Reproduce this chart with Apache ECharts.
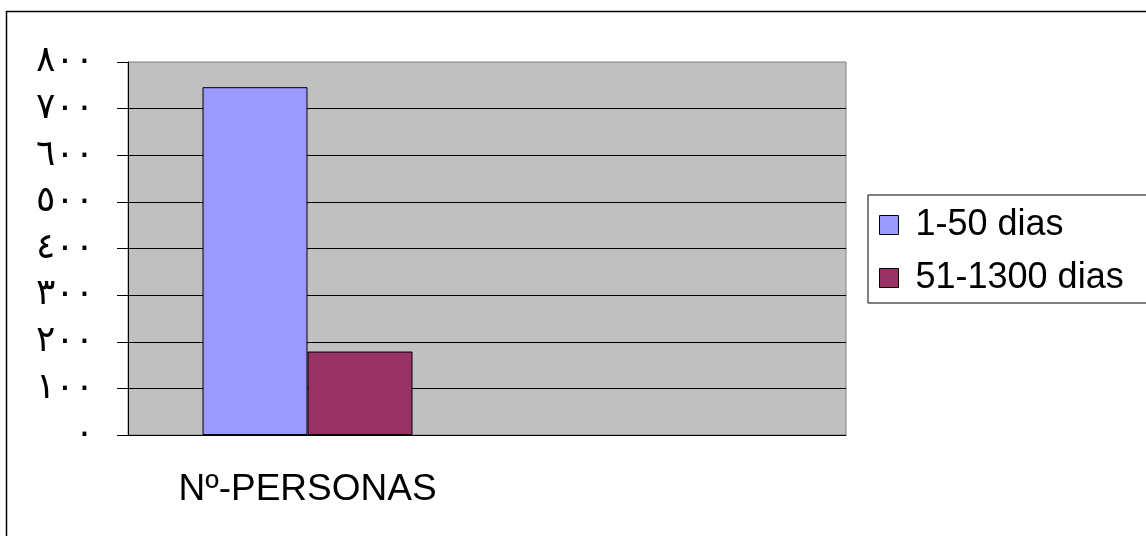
<!DOCTYPE html>
<html>
<head>
<meta charset="utf-8">
<script src="https://cdn.jsdelivr.net/npm/echarts@6/dist/echarts.min.js"></script>
<style>
    html, body { margin: 0; padding: 0; background: #fff; }
    #container { width: 1146px; height: 536px; }
</style>
</head>
<body>
<div id="container"></div>
<script>
const categories = ['Nº-PERSONAS', ''];
const seriesNames = ['1-50 dias', '51-1300 dias'];
const shortStay = [746, null];
const longStay = [179, null];
const yTickLabels = ['٠', '١٠٠', '٢٠٠', '٣٠٠', '٤٠٠', '٥٠٠', '٦٠٠', '٧٠٠', '٨٠٠'];

const chart = echarts.init(document.getElementById('container'));

const option = {
    animation: false,
    backgroundColor: '#fff',
    grid: {
        left: 128,
        right: 300,
        top: 62,
        bottom: 101,
        show: true,
        backgroundColor: '#C0C0C0',
        borderColor: '#808080',
        borderWidth: 1,
    },
    legend: {
        orient: 'vertical',
        left: 868,
        top: 195,
        padding: [12, 40, 7, 11],
        itemGap: 17,
        itemWidth: 19,
        itemHeight: 19,
        borderColor: '#000',
        borderWidth: 1,
        icon: 'rect',
        itemStyle: { borderColor: '#000', borderWidth: 1 },
        textStyle: {
            fontFamily: 'Liberation Sans, Arial',
            fontSize: 36,
            color: '#000',
            padding: [0, 0, 0, 12],
        },
        data: seriesNames,
    },
    xAxis: {
        type: 'category',
        data: categories,
        axisLine: { lineStyle: { color: '#000', width: 1 } },
        axisTick: { length: 12, lineStyle: { color: '#000' } },
        axisLabel: {
            margin: 36,
            fontFamily: 'Liberation Sans, Arial',
            fontSize: 37,
            color: '#000',
        },
    },
    yAxis: {
        type: 'value',
        min: 0,
        max: 800,
        interval: 100,
        axisLine: { show: true, lineStyle: { color: '#000', width: 1 } },
        axisTick: { show: true, length: 11, lineStyle: { color: '#000' } },
        splitLine: { show: true, showMaxLine: false, lineStyle: { color: '#000', width: 1 } },
        axisLabel: {
            margin: 34,
            fontFamily: 'DejaVu Sans',
            fontSize: 36,
            color: '#000',
            formatter: (value) => yTickLabels[Math.round(value / 100)],
        },
    },
    series: [
        {
            name: seriesNames[0],
            type: 'bar',
            data: shortStay,
            barWidth: 105,
            barGap: '0%',
            itemStyle: { color: '#9999FF', borderColor: '#000', borderWidth: 1 },
        },
        {
            name: seriesNames[1],
            type: 'bar',
            data: longStay,
            barWidth: 105,
            itemStyle: { color: '#993366', borderColor: '#000', borderWidth: 1 },
        },
    ],
    graphic: [
        {
            type: 'rect',
            silent: true,
            shape: { x: 6.5, y: 11.5, width: 1200, height: 600 },
            style: { fill: 'none', stroke: '#000', lineWidth: 1.5 },
        },
    ],
};

chart.setOption(option);
</script>
</body>
</html>
